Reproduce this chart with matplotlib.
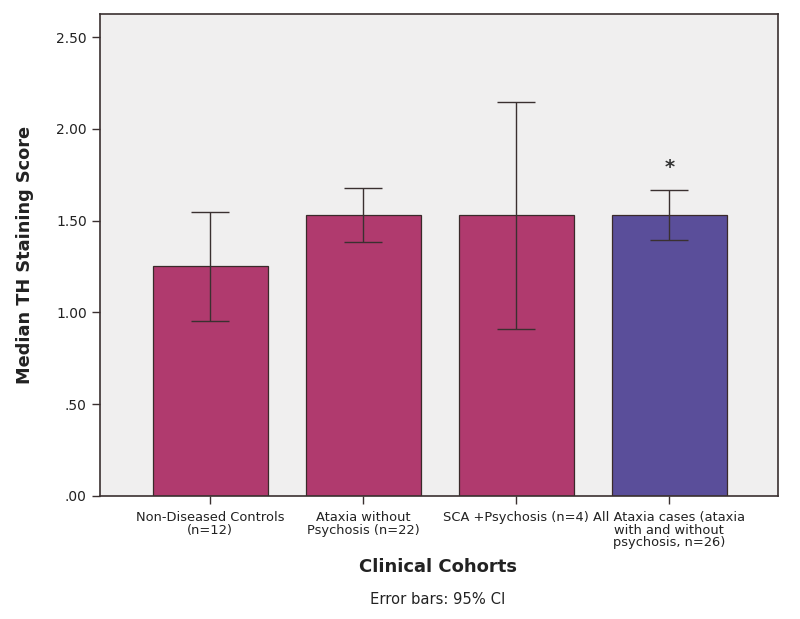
"""
Median TH staining score by clinical cohort, with 95% CI error bars.
"""

import matplotlib

matplotlib.use("Agg")
import matplotlib.pyplot as plt
import numpy as np

categories = [
    "Non-Diseased Controls\n(n=12)",
    "Ataxia without\nPsychosis (n=22)",
    "SCA +Psychosis (n=4)",
    "All Ataxia cases (ataxia\nwith and without\npsychosis, n=26)",
]
medians = [1.25, 1.53, 1.53, 1.53]
ci_low = [0.955, 1.385, 0.91, 1.395]
ci_high = [1.545, 1.68, 2.145, 1.667]
bar_colors = ["#B03A6E", "#B03A6E", "#B03A6E", "#5A4E9A"]
y_ticks = [0.0, 0.5, 1.0, 1.5, 2.0, 2.5]
y_tick_labels = [".00", ".50", "1.00", "1.50", "2.00", "2.50"]


def main() -> None:
    fig = plt.figure(figsize=(8, 6.19), dpi=100)
    ax = fig.add_axes([0.125, 0.199, 0.8475, 0.778])
    ax.set_facecolor("#F0EFEF")

    x = np.arange(len(categories))
    med = np.array(medians)
    yerr = np.vstack([med - np.array(ci_low), np.array(ci_high) - med])

    ax.bar(x, med, width=0.75, color=bar_colors, edgecolor="#3a2a2a",
           linewidth=0.9, zorder=2)
    ax.errorbar(x, med, yerr=yerr, fmt="none", ecolor="#3a3030",
                elinewidth=1.0, capsize=13.7, capthick=1.0, zorder=3)

    # significance marker above the pooled ataxia group
    ax.text(x[3], ci_high[3] + 0.12, "*", ha="center", va="center",
            fontsize=14, fontweight="bold", color="#333333")

    ax.set_xlim(-0.72, 3.71)
    ax.set_ylim(0, 2.625)
    ax.set_xticks(x)
    ax.set_xticklabels(categories, fontsize=9.4, color="#222222",
                       linespacing=0.95)
    ax.set_yticks(y_ticks)
    ax.set_yticklabels(y_tick_labels, fontsize=10, color="#222222")
    ax.tick_params(axis="both", length=6, width=1.0, color="#3a3030")
    ax.tick_params(axis="x", pad=5)

    for spine in ax.spines.values():
        spine.set_color("#3a3030")
        spine.set_linewidth(1.2)

    ax.set_ylabel("Median TH Staining Score", fontsize=12.8, fontweight="bold",
                  color="#222222", labelpad=16)
    fig.text(0.5475, 0.084, "Clinical Cohorts", ha="center", va="center",
             fontsize=13, fontweight="bold", color="#222222")
    fig.text(0.5475, 0.031, "Error bars: 95% CI", ha="center", va="center",
             fontsize=10.6, color="#222222")

    fig.savefig("out.png", dpi=100, facecolor="white")


if __name__ == "__main__":
    main()
